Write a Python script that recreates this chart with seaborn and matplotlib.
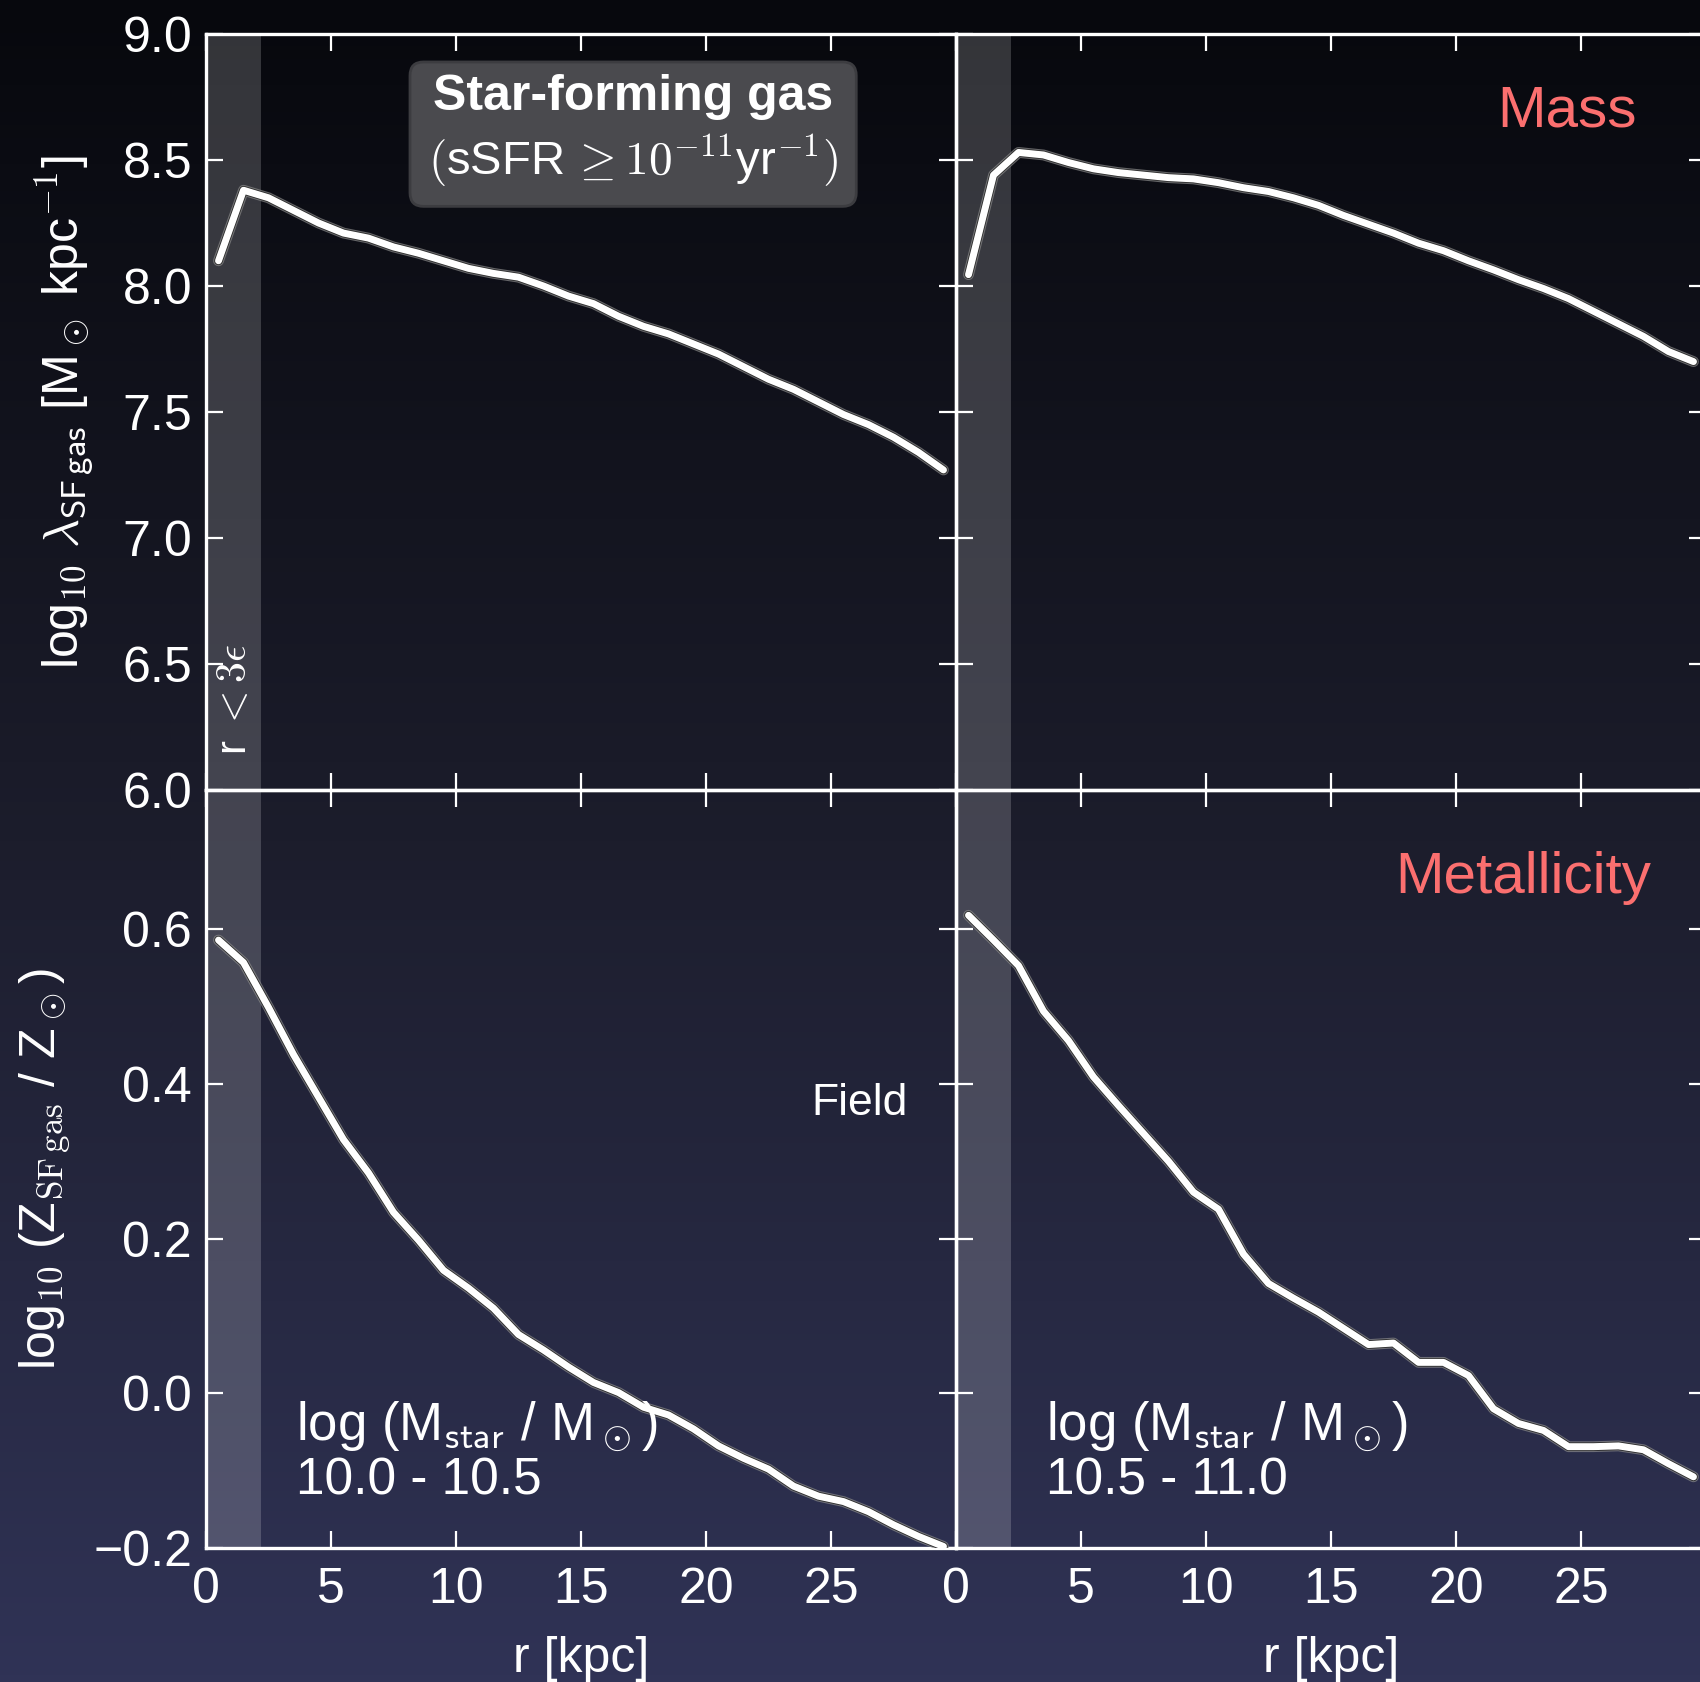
import numpy as np
import pandas as pd
import matplotlib
matplotlib.use("Agg")
import matplotlib.pyplot as plt
import matplotlib.patheffects as pe
from matplotlib.patches import FancyBboxPatch
from matplotlib.colors import LinearSegmentedColormap
import seaborn as sns

# ---------------- data ----------------
r_kpc = [0.5, 1.5, 2.5, 3.5, 4.5, 5.5, 6.5, 7.5, 8.5, 9.5, 10.5, 11.5, 12.5, 13.5, 14.5,
         15.5, 16.5, 17.5, 18.5, 19.5, 20.5, 21.5, 22.5, 23.5, 24.5, 25.5, 26.5, 27.5, 28.5, 29.5]

mass_lo = [8.10, 8.38, 8.35, 8.30, 8.25, 8.21, 8.19, 8.155, 8.13, 8.10, 8.07, 8.05, 8.035, 8.00, 7.96,
           7.93, 7.88, 7.84, 7.81, 7.77, 7.73, 7.68, 7.63, 7.59, 7.54, 7.49, 7.45, 7.40, 7.34, 7.27]
mass_hi = [8.045, 8.44, 8.53, 8.52, 8.49, 8.465, 8.45, 8.44, 8.43, 8.425, 8.41, 8.39, 8.375, 8.35, 8.32,
           8.28, 8.245, 8.21, 8.17, 8.14, 8.10, 8.064, 8.025, 7.99, 7.95, 7.90, 7.85, 7.80, 7.74, 7.70]
metal_lo = [0.586, 0.557, 0.499, 0.438, 0.383, 0.328, 0.285, 0.234, 0.198, 0.159, 0.136, 0.110, 0.076, 0.056, 0.034,
            0.014, 0.001, -0.018, -0.028, -0.046, -0.068, -0.084, -0.098, -0.120, -0.133, -0.140, -0.153, -0.170, -0.185, -0.198]
metal_hi = [0.618, 0.586, 0.553, 0.494, 0.456, 0.409, 0.372, 0.336, 0.300, 0.260, 0.238, 0.180, 0.142, 0.123, 0.105,
            0.084, 0.063, 0.065, 0.040, 0.040, 0.023, -0.020, -0.039, -0.048, -0.069, -0.069, -0.068, -0.073, -0.091, -0.108]

mass_bin_labels = ["10.0 - 10.5", "10.5 - 11.0"]
x_ticks = [0, 5, 10, 15, 20, 25]
mass_yticks = [6.0, 6.5, 7.0, 7.5, 8.0, 8.5, 9.0]
metal_yticks = [-0.2, 0.0, 0.2, 0.4, 0.6]
softening_r = 2.2

# ---------------- style ----------------
sns.set_style("ticks")
plt.rcParams["font.family"] = ["Liberation Sans", "DejaVu Sans"]
plt.rcParams["mathtext.fontset"] = "cm"
plt.rcParams["axes.unicode_minus"] = True

W, H, DPI = 1700, 1682, 100
fig = plt.figure(figsize=(W / DPI, H / DPI), dpi=DPI)

# gradient background
bg = fig.add_axes([0, 0, 1, 1], zorder=-10)
cmap = LinearSegmentedColormap.from_list("bg", ["#07080d", "#1c1d2c", "#303356"])
grad = np.linspace(0, 1, 256).reshape(-1, 1)
bg.imshow(grad, aspect="auto", cmap=cmap, extent=[0, 1, 0, 1], origin="upper")
bg.set_axis_off()

left0, colw = 206 / W, 750 / W
top_b, top_h = 1 - 790 / H, 756 / H
bot_b, bot_h = 1 - 1548 / H, 758 / H

axes = [[fig.add_axes([left0 + j * colw, top_b, colw, top_h]) for j in range(2)],
        [fig.add_axes([left0 + j * colw, bot_b, colw, bot_h]) for j in range(2)]]

data = [[mass_lo, mass_hi], [metal_lo, metal_hi]]
salmon = "#fb6f6f"

for i in range(2):
    for j in range(2):
        ax = axes[i][j]
        ax.set_facecolor("none")
        df = pd.DataFrame({"r": r_kpc, "v": data[i][j]})
        ax.axvspan(0, softening_r, color="white", alpha=0.18, lw=0, zorder=1)
        sns.lineplot(data=df, x="r", y="v", ax=ax, color="white", lw=5.0, zorder=3,
                     path_effects=[pe.Stroke(linewidth=7.8, foreground="#8a8a8a", alpha=0.7),
                                   pe.Stroke(linewidth=6.2, foreground="#2a2a2a"), pe.Normal()])
        ax.set_xlim(0, 30)
        ax.set_xticks(x_ticks)
        if i == 0:
            ax.set_ylim(6.0, 9.0)
            ax.set_yticks(mass_yticks)
        else:
            ax.set_ylim(-0.2, 0.78)
            ax.set_yticks(metal_yticks)
        for s in ax.spines.values():
            s.set_color("white")
            s.set_linewidth(2.4)
            s.set_visible(True)
        ax.tick_params(direction="in", length=12, width=1.6, colors="white",
                       top=True, right=True, bottom=True, left=True,
                       labelsize=36, pad=10,
                       labelleft=(j == 0), labelbottom=(i == 1))
        ax.tick_params(axis="x", pad=14)
        ax.set_xlabel("")
        ax.set_ylabel("")
        if i == 1:
            ax.set_xlabel("r [kpc]", fontsize=36, color="white", labelpad=16)
            ax.text(0.12, 0.16, r"log (M$_{\mathsf{star}}$ / M$_\odot$)", transform=ax.transAxes,
                    fontsize=38, color="white", ha="left", va="center")
            ax.text(0.12, 0.088, mass_bin_labels[j], transform=ax.transAxes,
                    fontsize=37, color="white", ha="left", va="center")

axes[0][0].set_ylabel(r"log$_{10}$ $\lambda_{\mathsf{SF\,gas}}$ [M$_\odot$ kpc$^{-1}$]",
                      fontsize=36, color="white")
axes[0][0].yaxis.set_label_coords(-0.146, 0.5)
axes[1][0].set_ylabel(r"log$_{10}$ (Z$_{\rm SF\,gas}$ / Z$_\odot$)", fontsize=36, color="white")
axes[1][0].yaxis.set_label_coords(-0.179, 0.5)

# r < 3 eps
axes[0][0].text(1.15, 6.14, r"r $< 3\epsilon$", rotation=90, fontsize=30, color="white",
                ha="center", va="bottom")

# title box
ax = axes[0][0]
box = FancyBboxPatch((0.272, 0.772), 0.595, 0.191, transform=ax.transAxes,
                     boxstyle="round,pad=0,rounding_size=0.018",
                     fc="#4a4a4e", ec="#3c3c40", lw=2, zorder=5)
ax.add_patch(box)
ax.text(0.569, 0.917, "Star-forming gas", transform=ax.transAxes, fontsize=36,
        fontweight="bold", color="white", ha="center", va="center", zorder=6)
ax.text(0.569, 0.832, r"$($sSFR$\,\geq 10^{-11}$yr$^{-1})$", transform=ax.transAxes,
        fontsize=34, color="white", ha="center", va="center", zorder=6)

axes[0][1].text(0.908, 0.897, "Mass", transform=axes[0][1].transAxes, fontsize=42,
                color=salmon, ha="right", va="center")
axes[1][1].text(0.927, 0.884, "Metallicity", transform=axes[1][1].transAxes, fontsize=42,
                color=salmon, ha="right", va="center")
axes[1][0].text(0.872, 0.587, "Field", transform=axes[1][0].transAxes, fontsize=32,
                color="white", ha="center", va="center")

fig.savefig("out.png", dpi=DPI)
